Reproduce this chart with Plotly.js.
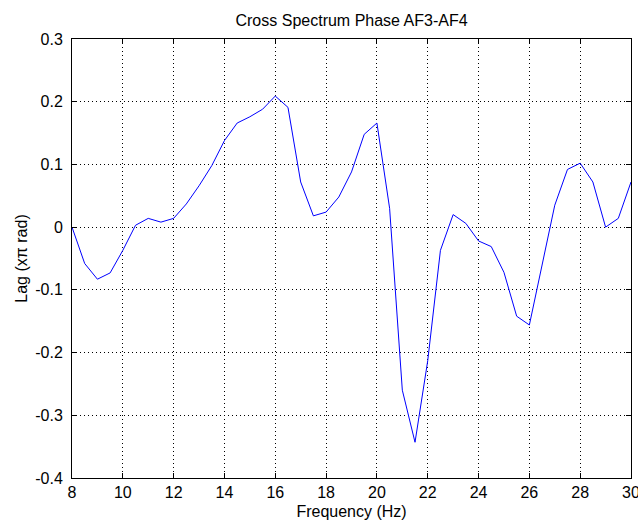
<!DOCTYPE html>
<html>
<head>
<meta charset="utf-8">
<script src="https://cdn.plot.ly/plotly-3.0.1.min.js"></script>
<style>html,body{margin:0;padding:0;background:#fff;}#chart{width:638px;height:526px;}</style>
</head>
<body>
<div id="chart"></div>
<script>
var freq = [8, 8.5, 9, 9.5, 10, 10.5, 11, 11.5, 12, 12.5, 13, 13.5, 14, 14.5, 15, 15.5, 16, 16.5, 17, 17.5, 18, 18.5, 19, 19.5, 20, 20.5, 21, 21.5, 22, 22.5, 23, 23.5, 24, 24.5, 25, 25.5, 26, 26.5, 27, 27.5, 28, 28.5, 29, 29.5, 30];
var lag = [0, -0.058, -0.083, -0.073, -0.037, 0.003, 0.014, 0.008, 0.014, 0.037, 0.066, 0.098, 0.138, 0.166, 0.176, 0.188, 0.209, 0.191, 0.072, 0.018, 0.024, 0.048, 0.088, 0.148, 0.166, 0.03, -0.26, -0.343, -0.213, -0.037, 0.02, 0.006, -0.022, -0.031, -0.072, -0.142, -0.156, -0.058, 0.035, 0.092, 0.102, 0.072, 0.0, 0.014, 0.072];
var xTickVals = [8, 10, 12, 14, 16, 18, 20, 22, 24, 26, 28, 30];
var xTickText = ['8', '10', '12', '14', '16', '18', '20', '22', '24', '26', '28', '30'];
var yTickVals = [-0.4, -0.3, -0.2, -0.1, 0, 0.1, 0.2, 0.3];
var yTickText = ['-0.4', '-0.3', '-0.2', '-0.1', '0', '0.1', '0.2', '0.3'];

var font = {family: 'Liberation Sans, Arial, sans-serif', size: 16, color: '#000'};
var axisCommon = {
  showline: true, linecolor: '#000', linewidth: 1, mirror: 'ticks',
  ticks: 'inside', ticklen: 5, tickcolor: '#000', tickwidth: 1,
  showgrid: true, gridcolor: '#000', gridwidth: 1, griddash: '1px,3px',
  zeroline: false, tickfont: font, tickmode: 'array', automargin: false,
  ticklabeloverflow: 'allow'
};
var layout = {
  width: 638, height: 526,
  margin: {l: 72, r: 7, t: 39, b: 48},
  paper_bgcolor: '#fff', plot_bgcolor: '#fff',
  showlegend: false,
  font: font,
  title: {text: 'Cross Spectrum Phase AF3-AF4', font: font, x: 0.551, xanchor: 'center', y: 0.962, yanchor: 'middle'},
  xaxis: Object.assign({}, axisCommon, {
    range: [8, 30], tickvals: xTickVals, ticktext: xTickText,
    title: {text: 'Frequency (Hz)', font: font, standoff: 5}
  }),
  yaxis: Object.assign({}, axisCommon, {
    range: [-0.4, 0.3], tickvals: yTickVals, ticktext: yTickText,
    ticklabelstandoff: 5,
    title: {text: 'Lag (x\u03c0 rad)', font: font, standoff: 3}
  })
};
var trace = {
  x: freq, y: lag, type: 'scatter', mode: 'lines',
  line: {color: '#0000ff', width: 1}, hoverinfo: 'skip'
};
Plotly.newPlot('chart', [trace], layout, {displayModeBar: false, staticPlot: true});
</script>
</body>
</html>
